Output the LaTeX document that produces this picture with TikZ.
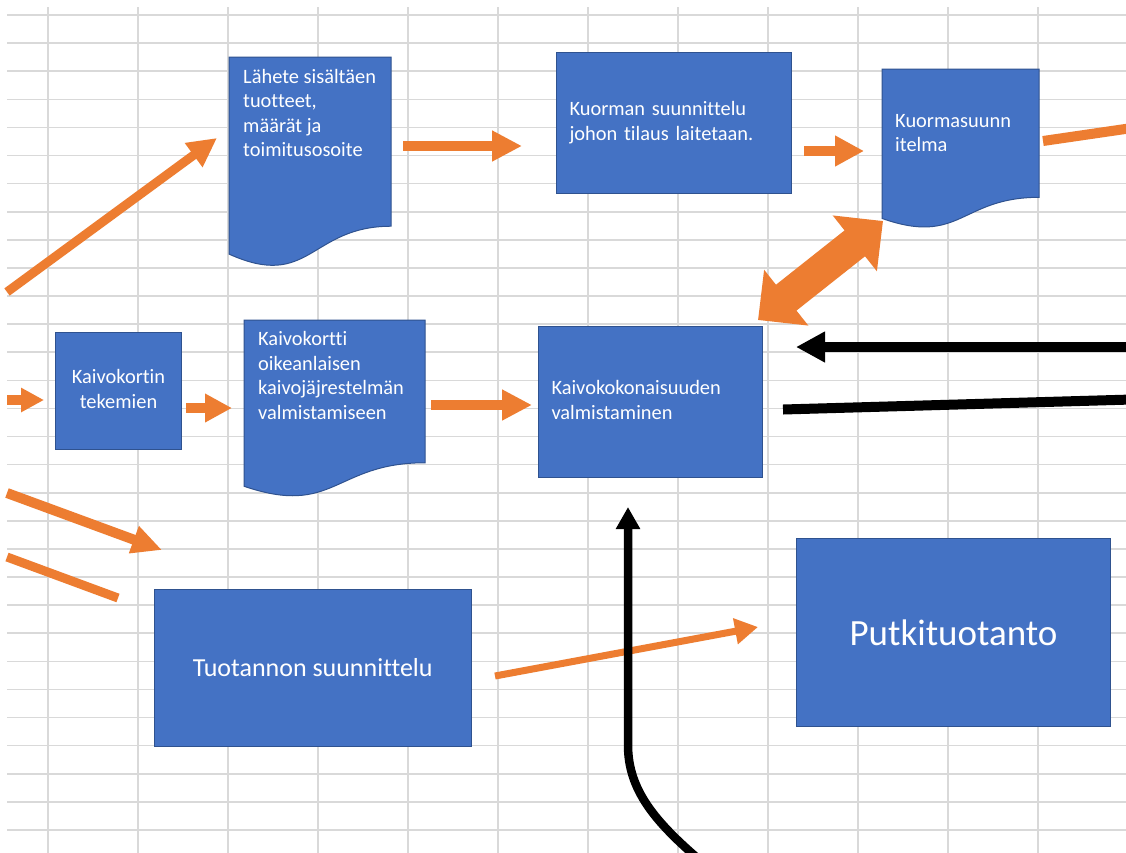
\documentclass[tikz,border=0pt]{standalone}
\usepackage{fontspec}
\setmainfont{Carlito}[Ligatures=NoCommon]
\usetikzlibrary{arrows.meta}

\definecolor{boxblue}{HTML}{4472C4}
\definecolor{boxedge}{HTML}{2F528F}
\definecolor{flow}{HTML}{ED7D31}
\definecolor{gridgray}{HTML}{D9D9D9}

\newcommand\smalltxt{\fontsize{20.4}{24.5}\selectfont}

% flowchart "document" outline: top-left corner (#1,#2), width #3, height #4
\newcommand\docoutline[4]{%
  \path[docshape] (#1,#2) -- ({#1+#3},#2) -- ({#1+#3},{#2+0.802*#4})
    .. controls ({#1+0.5*#3},{#2+0.802*#4}) and ({#1+0.5*#3},{#2+1.1075*#4})
    .. (#1,{#2+0.934*#4}) -- cycle;}

\tikzset{
  gridline/.style={draw=gridgray, line width=1.6pt},
  docshape/.style={draw=boxedge, fill=boxblue, line width=1pt},
  boxbase/.style={draw=boxedge, fill=boxblue, line width=1pt, text=white},
  leftbox/.style={boxbase, align=left, inner xsep=13pt, inner ysep=0pt,
    font=\smalltxt, anchor=north west},
  centerbox/.style={boxbase, align=center, inner sep=0pt, anchor=north west},
  doctext/.style={text=white, inner sep=0pt, align=left, font=\smalltxt,
    anchor=north west},
  orangearrow/.style={draw=flow, line width=#1},
  orangearrow/.default=10pt,
  blackarrow/.style={draw=black, line width=#1},
  blackarrow/.default=10pt,
}

\begin{document}
\begin{tikzpicture}[x=1pt, y=-1pt]
  \useasboundingbox (0,0) rectangle (1126,852);
  \clip (0,0) rectangle (1126,852);
  \fill[white] (0,0) rectangle (1126,852);

  % spreadsheet grid
  \foreach \k in {0,...,11}
    \draw[gridline] ({48+90*\k},7) -- ({48+90*\k},860);
  \foreach \k in {0,...,29}
    \draw[gridline] (7,{15+28.1*\k}) -- (1130,{15+28.1*\k});

  % document shapes
  \docoutline{229}{57}{162}{211}
  \docoutline{882}{69}{157}{160}
  \docoutline{244}{320}{181}{178}

  \node[doctext] (lahete) at (243,66)
    {\strut Lähete sisältäen\\\strut tuotteet,\\\strut määrät ja\\\strut toimitusosoite};
  \node[doctext] (kuormasuunnitelma) at (895,110)
    {\strut Kuormasuunn\\\strut itelma};
  \node[doctext] (kaivokortti) at (258,328.5)
    {\strut Kaivokortti\\\strut oikeanlaisen\\\strut kaivojäjrestelmän\\\strut valmistamiseen};

  % process boxes
  \node[leftbox, text width=209pt, minimum height=141pt] (kuorman) at (556,52)
    {\strut Kuorman suunnittelu\\\strut johon tilaus laitetaan.};
  \node[leftbox, text width=197.6pt, minimum height=151pt] (kokonaisuus) at (538,326)
    {\strut Kaivokokonaisuuden\\\strut valmistaminen};
  \node[centerbox, minimum width=126pt, minimum height=117pt, font=\smalltxt] (kaivokortin) at (55,332)
    {\strut Kaivokortin\\\strut tekemien};
  \node[centerbox, minimum width=316.5pt, minimum height=157pt,
        font=\fontsize{26}{31}\selectfont] (tuotanto) at (154,589)
    {Tuotannon suunnittelu};
  \node[centerbox, minimum width=314pt, minimum height=188pt,
        font=\fontsize{37}{44}\selectfont] (putki) at (796,538)
    {Putkituotanto};

  % free connector ends
  \coordinate (a0) at (7,292);    \coordinate (a1) at (217,138);
  \coordinate (b0) at (403,146);  \coordinate (b1) at (522,146);
  \coordinate (c0) at (804,151);  \coordinate (c1) at (864,151);
  \coordinate (d0) at (1043,141); \coordinate (d1) at (1132,128);
  \coordinate (e0) at (758,320);  \coordinate (e1) at (883,221);
  \coordinate (f0) at (7,400);    \coordinate (f1) at (44,400);
  \coordinate (g0) at (186,408);  \coordinate (g1) at (232,408);
  \coordinate (h0) at (431,405);  \coordinate (h1) at (532,405);
  \coordinate (i0) at (7,493);    \coordinate (i1) at (162,550);
  \coordinate (j0) at (7,557);    \coordinate (j1) at (118,598);
  \coordinate (k0) at (495,676);  \coordinate (k1) at (758,627);
  \coordinate (l0) at (1132,347); \coordinate (l1) at (796,347);
  \coordinate (m0) at (783,409.5);\coordinate (m1) at (1132,399.5);
  \coordinate (n0) at (702,862);  \coordinate (n1) at (628,745);
  \coordinate (n2) at (628,507);

  % orange connectors
  \draw[orangearrow=9pt, -{Triangle[length=29pt,width=28pt]}] (a0) -- (a1);
  \draw[orangearrow, -{Triangle[length=30pt,width=29pt]}] (b0) -- (b1);
  \draw[orangearrow, -{Triangle[length=29pt,width=29pt]}] (c0) -- (c1);
  \draw[orangearrow] (d0) -- (d1);
  \draw[orangearrow=33pt, {Triangle[length=36pt,width=69pt]}-{Triangle[length=36pt,width=69pt]}] (e0) -- (e1);
  \draw[orangearrow, -{Triangle[length=23pt,width=23pt]}] (f0) -- (f1);
  \draw[orangearrow, -{Triangle[length=27pt,width=27pt]}] (g0) -- (g1);
  \draw[orangearrow, -{Triangle[length=30pt,width=29pt]}] (h0) -- (h1);
  \draw[orangearrow, -{Triangle[length=30pt,width=27pt]}] (i0) -- (i1);
  \draw[orangearrow=9pt] (j0) -- (j1);
  \draw[orangearrow=7pt, -{Triangle[length=23pt,width=25pt]}] (k0) -- (k1);

  % black connectors
  \draw[blackarrow, -{Triangle[length=29pt,width=29pt]}] (l0) -- (l1);
  \draw[blackarrow] (m0) -- (m1);
  \draw[blackarrow=8.5pt, -{Triangle[length=22pt,width=23pt]}]
    (n0) .. controls (655,822) and (628,790) .. (n1) -- (n2);
\end{tikzpicture}
\end{document}
